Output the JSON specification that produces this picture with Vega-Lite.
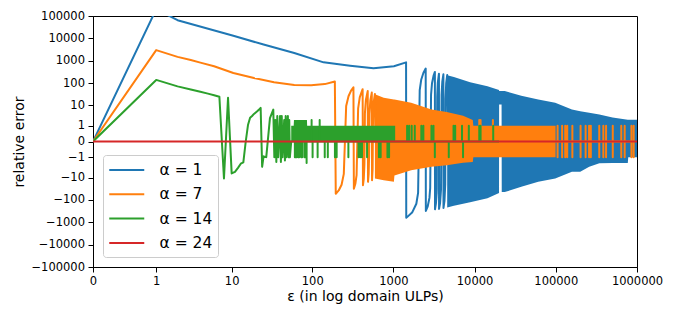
{
"$schema":"https://vega.github.io/schema/vega-lite/v6.json",
"width":544,"height":251,"autosize":"none",
"padding":{"left":93,"top":16,"right":39,"bottom":53},
"background":"white",
"config":{"view":{"stroke":"#000","strokeWidth":1},"font":"DejaVu Sans",
"axis":{"domainColor":"#000","tickColor":"#000","labelColor":"#000","titleColor":"#000","grid":false,"tickSize":5,"labelPadding":3.5,"labelFontSize":11.5,"titleFontSize":14,"titleFontWeight":"normal","labelFont":"DejaVu Sans","titleFont":"DejaVu Sans","domainWidth":1,"tickWidth":1,"labelOverlap":false,"labelFlush":false}},
"datasets":{
"BA":[{"x":4600,"y":225,"y2":-220},{"x":5560,"y":187,"y2":-185},{"x":8810,"y":110,"y2":-130},{"x":14400,"y":72,"y2":-85},{"x":20000,"y":50,"y2":-50},{"x":20050,"y":45,"y2":11},{"x":21500,"y":45,"y2":11},{"x":21600,"y":45,"y2":-45},{"x":23500,"y":45,"y2":-45},{"x":37600,"y":27,"y2":-26},{"x":60800,"y":18.6,"y2":-15.5},{"x":98400,"y":13,"y2":-11},{"x":158000,"y":6.4,"y2":-5.4},{"x":200000,"y":5.4,"y2":-5.3},{"x":258000,"y":4.5,"y2":-3.1},{"x":344000,"y":3.8,"y2":-2.1},{"x":500000,"y":2.7,"y2":-2},{"x":770000,"y":2.1,"y2":-2},{"x":780000,"y":2.1,"y2":-1},{"x":1000000,"y":2.1,"y2":-1}],
"OA":[{"x":592,"y":32,"y2":-11},{"x":760,"y":22,"y2":-13},{"x":1015,"y":18.6,"y2":-15.5},{"x":1030,"y":18.5,"y2":-8},{"x":1656,"y":13,"y2":-4.5},{"x":2944,"y":6.4,"y2":-3.1},{"x":4540,"y":5,"y2":-2.6},{"x":7220,"y":3.3,"y2":-1.95},{"x":9500,"y":2,"y2":-1.8},{"x":9650,"y":1,"y2":-1},{"x":99300,"y":1,"y2":-1}],
"GA":[{"x":55,"y":1,"y2":0},{"x":59,"y":1,"y2":0},{"x":59.5,"y":2,"y2":0},{"x":86,"y":2,"y2":0},{"x":86.5,"y":1,"y2":0},{"x":1052,"y":1,"y2":0}],
"L":[
{"s":1,"x":0,"y":0},{"s":1,"x":1,"y":200000},{"s":1,"x":2,"y":65000},{"s":1,"x":10.5,"y":13100},{"s":1,"x":25,"y":5300},{"s":1,"x":60,"y":2220},{"s":1,"x":138,"y":853},{"s":1,"x":293,"y":600},{"s":1,"x":569,"y":460},{"s":1,"x":1015,"y":570},{"s":1,"x":1433,"y":853},
{"s":1,"x":1440,"y":-641},{"s":1,"x":1700,"y":-373},{"s":1,"x":1917,"y":-150},{"s":1,"x":2015,"y":-49},{"s":1,"x":2110,"y":49},{"s":1,"x":2200,"y":142},{"s":1,"x":2340,"y":286},{"s":1,"x":2500,"y":451},
{"s":1,"x":2510,"y":-314},{"s":1,"x":2650,"y":-194},{"s":1,"x":2780,"y":-82},{"s":1,"x":2840,"y":-30},{"s":1,"x":2910,"y":30},{"s":1,"x":2990,"y":99},{"s":1,"x":3120,"y":211},{"s":1,"x":3244,"y":318},
{"s":1,"x":3255,"y":-264},{"s":1,"x":3340,"y":-147},{"s":1,"x":3410,"y":-51},{"s":1,"x":3425,"y":-30},{"s":1,"x":3465,"y":25},{"s":1,"x":3520,"y":100},{"s":1,"x":3640,"y":265},
{"s":1,"x":3650,"y":-255},{"s":1,"x":3760,"y":-139},{"s":1,"x":3860,"y":-34},{"s":1,"x":3920,"y":29},{"s":1,"x":4000,"y":113},{"s":1,"x":4130,"y":250},
{"s":1,"x":4140,"y":-230},{"s":1,"x":4260,"y":-110},{"s":1,"x":4350,"y":-20},{"s":1,"x":4390,"y":20},{"s":1,"x":4470,"y":100},{"s":1,"x":4600,"y":230},{"s":1,"x":4700,"y":0},
{"s":7,"x":0,"y":0},{"s":7,"x":1,"y":3000},{"s":7,"x":2,"y":1500},{"s":7,"x":3,"y":1080},{"s":7,"x":4,"y":830},{"s":7,"x":6,"y":570},{"s":7,"x":10.5,"y":286},{"s":7,"x":19,"y":170},{"s":7,"x":33.7,"y":110},{"s":7,"x":60,"y":82},{"s":7,"x":97,"y":80},{"s":7,"x":143,"y":91},{"s":7,"x":190,"y":118},
{"s":7,"x":195,"y":-54},{"s":7,"x":212,"y":-38},{"s":7,"x":230,"y":-21},{"s":7,"x":245,"y":-6.7},{"s":7,"x":262,"y":9.3},{"s":7,"x":280,"y":26},{"s":7,"x":300,"y":45},{"s":7,"x":322,"y":66},
{"s":7,"x":326,"y":-32},{"s":7,"x":340,"y":-19},{"s":7,"x":352,"y":-7.7},{"s":7,"x":368,"y":7.3},{"s":7,"x":385,"y":23},{"s":7,"x":418,"y":54},
{"s":7,"x":422,"y":-22},{"s":7,"x":432,"y":-11},{"s":7,"x":440,"y":-2.2},{"s":7,"x":446,"y":4.4},{"s":7,"x":458,"y":17.5},{"s":7,"x":483,"y":45},
{"s":7,"x":487,"y":-15.5},{"s":7,"x":496,"y":-6.7},{"s":7,"x":502,"y":-0.9},{"s":7,"x":507,"y":4},{"s":7,"x":520,"y":16.6},{"s":7,"x":542,"y":38},
{"s":7,"x":546,"y":-13},{"s":7,"x":555,"y":-4},{"s":7,"x":560,"y":1},{"s":7,"x":565,"y":6},{"s":7,"x":575,"y":16},{"s":7,"x":592,"y":33},
{"s":7,"x":600,"y":0},{"s":7,"x":11400,"y":0},{"s":7,"x":11420,"y":2},{"s":7,"x":11480,"y":0},{"s":7,"x":11830,"y":0},{"s":7,"x":11850,"y":2},{"s":7,"x":11900,"y":0},{"s":7,"x":16750,"y":0},{"s":7,"x":16800,"y":2},{"s":7,"x":16880,"y":0},
{"s":7,"x":105200,"y":0},{"s":7,"x":105200,"y":1},{"s":7,"x":105200,"y":-1},{"s":7,"x":105200,"y":0},
{"s":7,"x":119700,"y":0},{"s":7,"x":119700,"y":1},{"s":7,"x":119700,"y":-1},{"s":7,"x":119700,"y":0},
{"s":7,"x":130600,"y":0},{"s":7,"x":130600,"y":1},{"s":7,"x":130600,"y":-1},{"s":7,"x":130600,"y":0},
{"s":7,"x":138300,"y":0},{"s":7,"x":138300,"y":1},{"s":7,"x":138300,"y":-1},{"s":7,"x":138300,"y":0},
{"s":7,"x":160000,"y":0},{"s":7,"x":160000,"y":1},{"s":7,"x":160000,"y":-1},{"s":7,"x":160000,"y":0},
{"s":7,"x":202000,"y":0},{"s":7,"x":202000,"y":1},{"s":7,"x":202000,"y":-1},{"s":7,"x":202000,"y":0},
{"s":7,"x":233000,"y":0},{"s":7,"x":233000,"y":1},{"s":7,"x":233000,"y":-1},{"s":7,"x":233000,"y":0},
{"s":7,"x":257000,"y":0},{"s":7,"x":257000,"y":1},{"s":7,"x":257000,"y":-1},{"s":7,"x":257000,"y":0},
{"s":7,"x":270000,"y":0},{"s":7,"x":270000,"y":1},{"s":7,"x":270000,"y":-1},{"s":7,"x":270000,"y":0},
{"s":7,"x":343000,"y":0},{"s":7,"x":343000,"y":1},{"s":7,"x":343000,"y":-1},{"s":7,"x":343000,"y":0},
{"s":7,"x":385000,"y":0},{"s":7,"x":385000,"y":1},{"s":7,"x":385000,"y":-1},{"s":7,"x":385000,"y":0},
{"s":7,"x":416000,"y":0},{"s":7,"x":416000,"y":1},{"s":7,"x":416000,"y":-1},{"s":7,"x":416000,"y":0},
{"s":7,"x":503000,"y":0},{"s":7,"x":503000,"y":1},{"s":7,"x":503000,"y":-1},{"s":7,"x":503000,"y":0},
{"s":7,"x":640000,"y":0},{"s":7,"x":640000,"y":1},{"s":7,"x":640000,"y":-1},{"s":7,"x":640000,"y":0},
{"s":7,"x":705000,"y":0},{"s":7,"x":705000,"y":1},{"s":7,"x":705000,"y":-1},{"s":7,"x":705000,"y":0},
{"s":7,"x":854000,"y":0},{"s":7,"x":854000,"y":1},{"s":7,"x":854000,"y":-1},{"s":7,"x":854000,"y":0},
{"s":7,"x":910000,"y":0},{"s":7,"x":910000,"y":1},{"s":7,"x":910000,"y":-1},{"s":7,"x":910000,"y":0},
{"s":14,"x":0,"y":0},{"s":14,"x":1,"y":140},{"s":14,"x":2,"y":72},{"s":14,"x":3,"y":52},{"s":14,"x":4,"y":41},{"s":14,"x":5,"y":34},{"s":14,"x":6,"y":29},{"s":14,"x":7,"y":24.7},{"s":14,"x":8,"y":-10.9},{"s":14,"x":9,"y":22},{"s":14,"x":10,"y":-6.4},{"s":14,"x":11,"y":-5.4},{"s":14,"x":12,"y":-3.5},{"s":14,"x":13,"y":-2.2},{"s":14,"x":14,"y":-1.9},{"s":14,"x":15,"y":0},{"s":14,"x":16,"y":1.1},{"s":14,"x":17,"y":2.6},{"s":14,"x":18,"y":3.2},{"s":14,"x":19,"y":4},{"s":14,"x":20,"y":4.7},{"s":14,"x":21,"y":5.5},{"s":14,"x":22,"y":6.5},{"s":14,"x":23,"y":7.7},{"s":14,"x":24,"y":-3.1},{"s":14,"x":25,"y":-0.9},{"s":14,"x":27,"y":-1},{"s":14,"x":30,"y":2.5},{"s":14,"x":33,"y":6.4},{"s":14,"x":34,"y":-1},{"s":14,"x":35,"y":2},{"s":14,"x":36,"y":-1.8},{"s":14,"x":37,"y":3.2},{"s":14,"x":38,"y":-1},{"s":14,"x":40,"y":3.2},{"s":14,"x":41,"y":-1.8},{"s":14,"x":42,"y":3.2},{"s":14,"x":43,"y":-1},{"s":14,"x":45,"y":2},{"s":14,"x":46,"y":-1.5},{"s":14,"x":47,"y":3.2},{"s":14,"x":48,"y":-1},{"s":14,"x":50,"y":3.2},{"s":14,"x":51,"y":-1},{"s":14,"x":52,"y":2},{"s":14,"x":53,"y":-1},{"s":14,"x":55,"y":0},
{"s":14,"x":61,"y":0},{"s":14,"x":61,"y":-1},{"s":14,"x":61,"y":0},
{"s":14,"x":62.5,"y":0},{"s":14,"x":62.5,"y":-1},{"s":14,"x":62.5,"y":0},
{"s":14,"x":64,"y":0},{"s":14,"x":64,"y":-1},{"s":14,"x":64,"y":0},
{"s":14,"x":67,"y":0},{"s":14,"x":67,"y":-1},{"s":14,"x":67,"y":0},
{"s":14,"x":69,"y":0},{"s":14,"x":69,"y":-1},{"s":14,"x":69,"y":0},
{"s":14,"x":73,"y":0},{"s":14,"x":73,"y":-1},{"s":14,"x":73,"y":0},
{"s":14,"x":75,"y":0},{"s":14,"x":75,"y":-1},{"s":14,"x":75,"y":0},
{"s":14,"x":80,"y":0},{"s":14,"x":80,"y":-1},{"s":14,"x":80,"y":0},
{"s":14,"x":83,"y":0},{"s":14,"x":83,"y":-1},{"s":14,"x":83,"y":0},
{"s":14,"x":85.2,"y":0},{"s":14,"x":85.2,"y":-2},{"s":14,"x":85.2,"y":0},
{"s":14,"x":98.2,"y":0},{"s":14,"x":98.2,"y":2},{"s":14,"x":98.2,"y":0},
{"s":14,"x":101,"y":0},{"s":14,"x":101,"y":-1},{"s":14,"x":101,"y":0},
{"s":14,"x":116.5,"y":0},{"s":14,"x":116.5,"y":-1},{"s":14,"x":116.5,"y":0},
{"s":14,"x":123.5,"y":0},{"s":14,"x":123.5,"y":2},{"s":14,"x":123.5,"y":0},
{"s":14,"x":142.6,"y":0},{"s":14,"x":142.6,"y":-1},{"s":14,"x":142.6,"y":0},
{"s":14,"x":155.6,"y":0},{"s":14,"x":155.6,"y":-1},{"s":14,"x":155.6,"y":0},
{"s":14,"x":190.5,"y":0},{"s":14,"x":190.5,"y":-1},{"s":14,"x":190.5,"y":0},
{"s":14,"x":200,"y":0},{"s":14,"x":200,"y":-1},{"s":14,"x":200,"y":0},
{"s":14,"x":279,"y":0},{"s":14,"x":279,"y":-1},{"s":14,"x":279,"y":0},
{"s":14,"x":372,"y":0},{"s":14,"x":372,"y":-1},{"s":14,"x":372,"y":0},
{"s":14,"x":391,"y":0},{"s":14,"x":391,"y":-1},{"s":14,"x":391,"y":0},
{"s":14,"x":410,"y":0},{"s":14,"x":410,"y":-1},{"s":14,"x":410,"y":0},
{"s":14,"x":474,"y":0},{"s":14,"x":474,"y":-1},{"s":14,"x":474,"y":0},
{"s":14,"x":664,"y":0},{"s":14,"x":664,"y":-1},{"s":14,"x":664,"y":0},
{"s":14,"x":697,"y":0},{"s":14,"x":697,"y":-1},{"s":14,"x":697,"y":0},
{"s":14,"x":845,"y":0},{"s":14,"x":845,"y":-1},{"s":14,"x":845,"y":0},
{"s":14,"x":885,"y":0},{"s":14,"x":885,"y":-1},{"s":14,"x":885,"y":0},
{"s":14,"x":1476,"y":0},{"s":14,"x":1476,"y":1},{"s":14,"x":1476,"y":0},
{"s":14,"x":1563,"y":0},{"s":14,"x":1563,"y":1},{"s":14,"x":1563,"y":0},
{"s":14,"x":1680,"y":0},{"s":14,"x":1680,"y":1},{"s":14,"x":1680,"y":0},
{"s":14,"x":1833,"y":0},{"s":14,"x":1833,"y":1},{"s":14,"x":1833,"y":0},
{"s":14,"x":2209,"y":0},{"s":14,"x":2209,"y":1},{"s":14,"x":2209,"y":0},
{"s":14,"x":2340,"y":0},{"s":14,"x":2340,"y":1},{"s":14,"x":2340,"y":0},
{"s":14,"x":2944,"y":0},{"s":14,"x":2944,"y":1},{"s":14,"x":2944,"y":0},
{"s":14,"x":3119,"y":0},{"s":14,"x":3119,"y":1},{"s":14,"x":3119,"y":0},
{"s":14,"x":3240,"y":0},{"s":14,"x":3240,"y":-1},{"s":14,"x":3240,"y":0},
{"s":14,"x":4810,"y":0},{"s":14,"x":4810,"y":-1},{"s":14,"x":4810,"y":0},
{"s":14,"x":5505,"y":0},{"s":14,"x":5505,"y":1},{"s":14,"x":5505,"y":0},
{"s":14,"x":5770,"y":0},{"s":14,"x":5770,"y":1},{"s":14,"x":5770,"y":0},
{"s":14,"x":7000,"y":0},{"s":14,"x":7000,"y":1},{"s":14,"x":7000,"y":0},
{"s":14,"x":7210,"y":0},{"s":14,"x":7210,"y":-1},{"s":14,"x":7210,"y":0},
{"s":14,"x":8490,"y":0},{"s":14,"x":8490,"y":1},{"s":14,"x":8490,"y":0},
{"s":14,"x":11420,"y":0},{"s":14,"x":11420,"y":1},{"s":14,"x":11420,"y":0},
{"s":14,"x":11850,"y":0},{"s":14,"x":11850,"y":1},{"s":14,"x":11850,"y":0},
{"s":14,"x":16960,"y":0},{"s":14,"x":16960,"y":1},{"s":14,"x":16960,"y":0},
{"s":14,"x":20000,"y":0},
{"s":24,"x":0,"y":0},{"s":24,"x":1000000,"y":0}
]},
"encoding":{
"x":{"field":"x","type":"quantitative","scale":{"type":"symlog","constant":0.2,"domain":[0,1000000],"nice":false,"zero":false},"axis":{"values":[0,1,10,100,1000,10000,100000,1000000],"format":"d","title":"ε (in log domain ULPs)","titlePadding":2}},
"y":{"field":"y","type":"quantitative","scale":{"type":"symlog","constant":0.25,"domain":[-100000,100000],"nice":false,"zero":false},"axis":{"values":[-100000,-10000,-1000,-100,-10,-1,0,1,10,100,1000,10000,100000],"format":"d","title":"relative error","titlePadding":4}}
},
"layer":[
{"data":{"name":"BA"},"mark":{"type":"area","color":"#1f77b4","clip":true,"opacity":1},"encoding":{"y2":{"field":"y2"}}},
{"data":{"name":"L"},"transform":[{"filter":"datum.s == 1"}],"mark":{"type":"line","strokeWidth":2,"clip":true,"strokeJoin":"round"},"encoding":{"order":{"value":null},"color":{"field":"s","type":"nominal","scale":{"domain":[1,7,14,24],"range":["#1f77b4","#ff7f0e","#2ca02c","#d62728"]},"legend":{"title":null,"orient":"none","legendX":10,"legendY":139,"symbolType":"M-1,0H3","symbolSize":306.25,"symbolStrokeWidth":2,"labelFontSize":15.5,"labelFont":"DejaVu Sans","labelColor":"#000","labelOffset":31.5,"rowPadding":5.3,"padding":5,"strokeColor":"#cccccc","fillColor":"rgba(255,255,255,0.8)","cornerRadius":3,"labelExpr":"'α = ' + datum.label"}}}},
{"data":{"name":"OA"},"mark":{"type":"area","color":"#ff7f0e","clip":true,"opacity":1},"encoding":{"y2":{"field":"y2"}}},
{"data":{"name":"L"},"transform":[{"filter":"datum.s == 7"}],"mark":{"type":"line","strokeWidth":2,"clip":true,"strokeJoin":"round"},"encoding":{"order":{"value":null},"color":{"field":"s","type":"nominal","scale":{"domain":[1,7,14,24],"range":["#1f77b4","#ff7f0e","#2ca02c","#d62728"]}}}},
{"data":{"name":"GA"},"mark":{"type":"area","color":"#2ca02c","clip":true,"opacity":1},"encoding":{"y2":{"field":"y2"}}},
{"data":{"name":"L"},"transform":[{"filter":"datum.s == 14"}],"mark":{"type":"line","strokeWidth":2,"clip":true,"strokeJoin":"round"},"encoding":{"order":{"value":null},"color":{"field":"s","type":"nominal","scale":{"domain":[1,7,14,24],"range":["#1f77b4","#ff7f0e","#2ca02c","#d62728"]}}}},
{"data":{"name":"L"},"transform":[{"filter":"datum.s == 24"}],"mark":{"type":"line","strokeWidth":2,"clip":true},"encoding":{"order":{"value":null},"color":{"field":"s","type":"nominal","scale":{"domain":[1,7,14,24],"range":["#1f77b4","#ff7f0e","#2ca02c","#d62728"]}}}}
]
}
